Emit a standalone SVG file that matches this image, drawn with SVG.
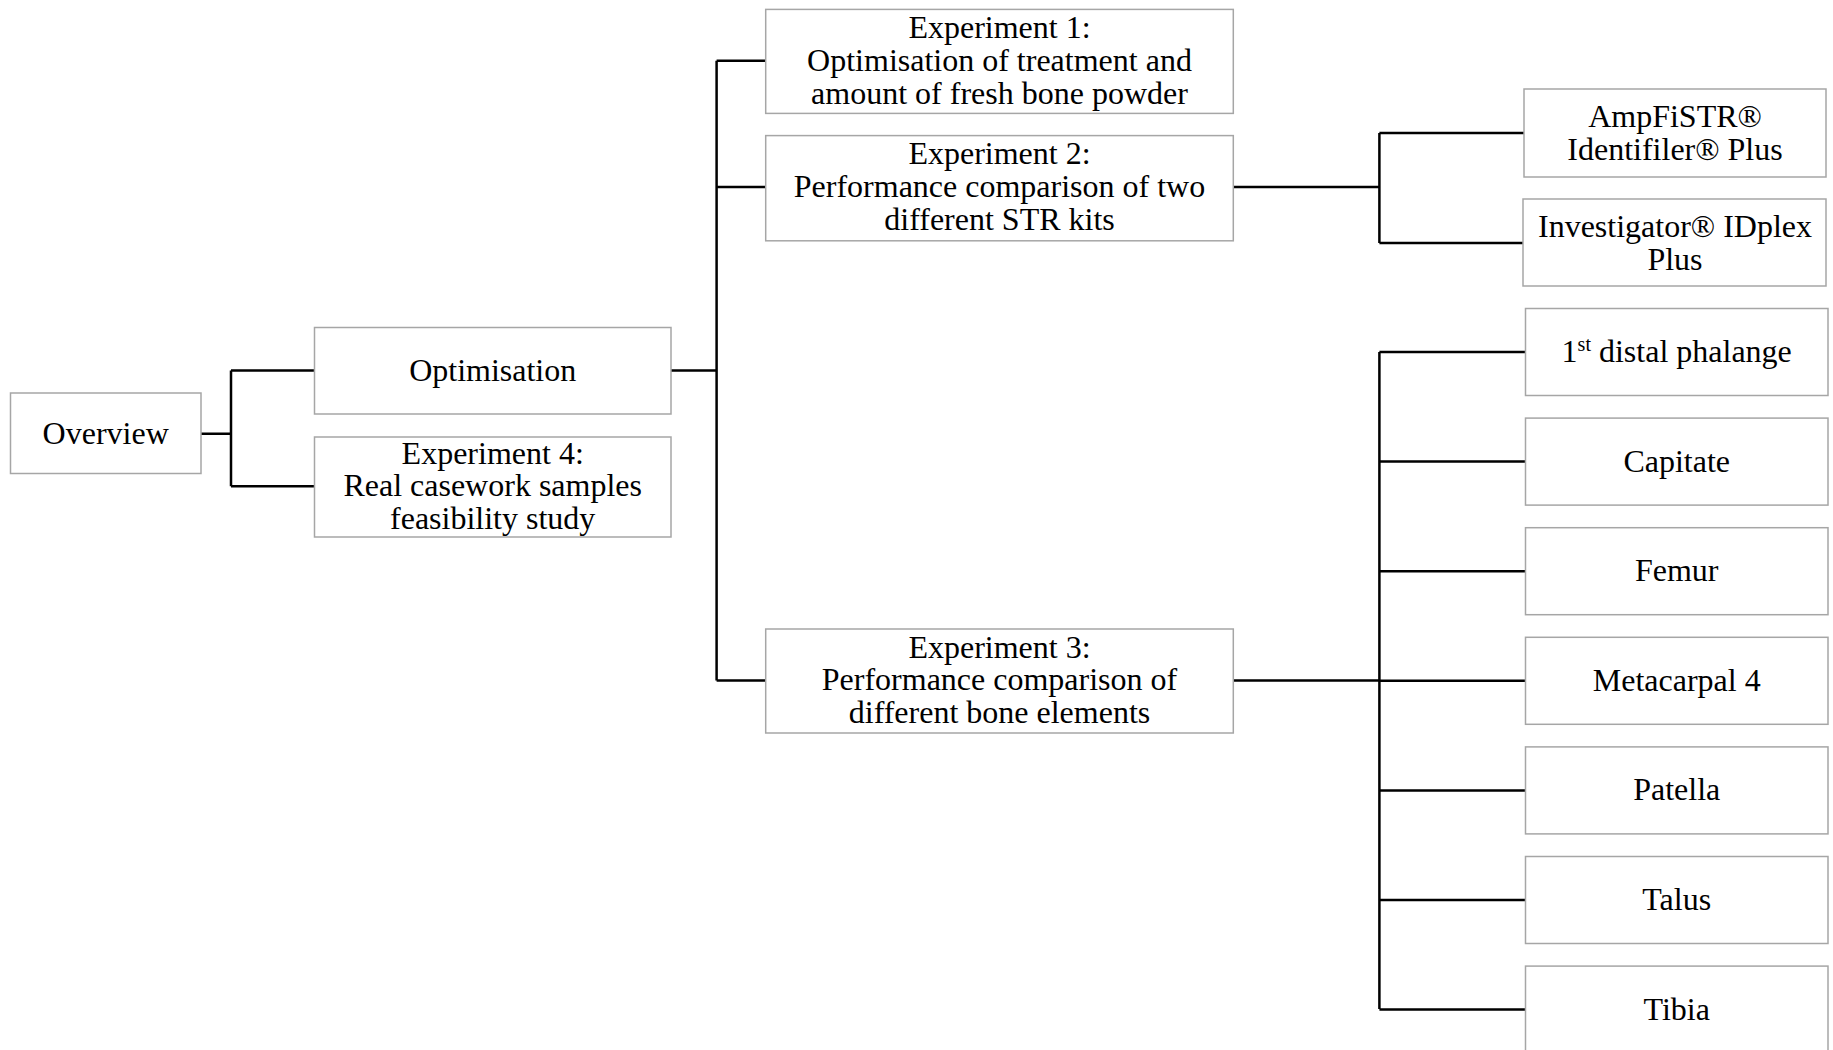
<svg xmlns="http://www.w3.org/2000/svg" width="1833" height="1050" viewBox="0 0 1833 1050">
<style>
.box{fill:#fff;stroke:#a6a6a6;stroke-width:1.5}
.t{font-family:"Liberation Serif","Times New Roman",serif;font-size:32px;fill:#000;text-anchor:middle}
.c{fill:none;stroke:#000;stroke-width:2.5}
</style>
<rect width="1833" height="1050" fill="#fff"/>
<g id="connectors">
<path class="c" d="M201,433.7H231M231,370.6V486.3M231,370.6H314.5M231,486.3H314.5"/>
<path class="c" d="M671,370.6H716.6M716.6,60.8V680.4M716.6,60.8H765.7M716.6,187H765.7M716.6,680.4H765.7"/>
<path class="c" d="M1233.3,187H1379.4M1379.4,133V243M1379.4,133H1524M1379.4,243H1524"/>
<path class="c" d="M1233.3,680.4H1379.4M1379.4,352V1009M1379.4,352H1525.5M1379.4,461.6H1525.5M1379.4,571.2H1525.5M1379.4,680.8H1525.5M1379.4,790.4H1525.5M1379.4,900H1525.5M1379.4,1009.6H1525.5"/>
</g>
<g id="overview"><rect class="box" x="10.5" y="393" width="190.5" height="80.5"/><text class="t" x="105.7" y="444">Overview</text></g>
<g id="optimisation"><rect class="box" x="314.5" y="327.5" width="356.5" height="86.5"/><text class="t" x="492.7" y="380.6">Optimisation</text></g>
<g id="exp4"><rect class="box" x="314.5" y="437" width="356.5" height="100"/><text class="t" x="492.7" y="463.6">Experiment 4:</text><text class="t" x="492.7" y="496.3">Real casework samples</text><text class="t" x="492.7" y="529">feasibility study</text></g>
<g id="exp1"><rect class="box" x="765.7" y="9.4" width="467.6" height="104"/><text class="t" x="999.5" y="38">Experiment 1:</text><text class="t" x="999.5" y="70.8">Optimisation of treatment and</text><text class="t" x="999.5" y="103.5">amount of fresh bone powder</text></g>
<g id="exp2"><rect class="box" x="765.7" y="135.6" width="467.6" height="105.2"/><text class="t" x="999.5" y="164.3">Experiment 2:</text><text class="t" x="999.5" y="197">Performance comparison of two</text><text class="t" x="999.5" y="229.8">different STR kits</text></g>
<g id="exp3"><rect class="box" x="765.7" y="629" width="467.6" height="104"/><text class="t" x="999.5" y="657.6">Experiment 3:</text><text class="t" x="999.5" y="690.4">Performance comparison of</text><text class="t" x="999.5" y="723">different bone elements</text></g>
<g id="ampfistr"><rect class="box" x="1524" y="89" width="302" height="88"/><text class="t" x="1675" y="127">AmpFiSTR®</text><text class="t" x="1675" y="159.6">Identifiler® Plus</text></g>
<g id="investigator"><rect class="box" x="1523" y="199" width="303" height="87"/><text class="t" x="1675" y="236.8">Investigator® IDplex</text><text class="t" x="1675" y="269.5">Plus</text></g>
<g id="phalange"><rect class="box" x="1525.5" y="308.5" width="302.5" height="87"/><text class="t" x="1676.7" y="362">1<tspan font-size="20" dy="-11">st</tspan><tspan dy="11"> distal phalange</tspan></text></g>
<g id="capitate"><rect class="box" x="1525.5" y="418.1" width="302.5" height="87"/><text class="t" x="1676.7" y="471.6">Capitate</text></g>
<g id="femur"><rect class="box" x="1525.5" y="527.7" width="302.5" height="87"/><text class="t" x="1676.7" y="581.2">Femur</text></g>
<g id="metacarpal"><rect class="box" x="1525.5" y="637.3" width="302.5" height="87"/><text class="t" x="1676.7" y="690.8">Metacarpal 4</text></g>
<g id="patella"><rect class="box" x="1525.5" y="746.9" width="302.5" height="87"/><text class="t" x="1676.7" y="800.4">Patella</text></g>
<g id="talus"><rect class="box" x="1525.5" y="856.5" width="302.5" height="87"/><text class="t" x="1676.7" y="910">Talus</text></g>
<g id="tibia"><rect class="box" x="1525.5" y="966.1" width="302.5" height="87"/><text class="t" x="1676.7" y="1019.6">Tibia</text></g>
</svg>
